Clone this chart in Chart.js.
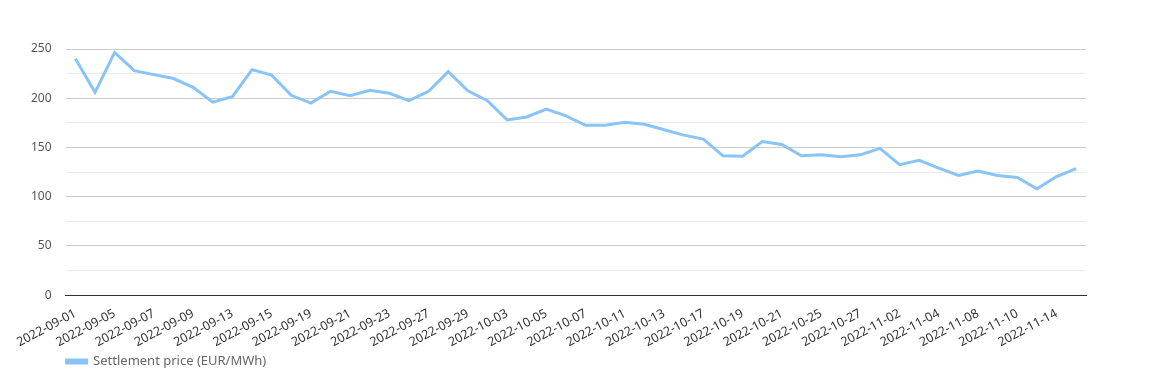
<!DOCTYPE html>
<html>
<head>
<meta charset="utf-8">
<script src="https://cdn.jsdelivr.net/npm/chart.js@4"></script>
<style>
  html, body { margin: 0; padding: 0; background: #fff; }
  #wrap { width: 1159px; height: 371px; }
</style>
</head>
<body>
<div id="wrap"><canvas id="chart" width="1159" height="371"></canvas></div>
<script>
const dates = [
    '2022-09-01', '2022-09-02', '2022-09-05', '2022-09-06', '2022-09-07', '2022-09-08', '2022-09-09',
    '2022-09-12', '2022-09-13', '2022-09-14', '2022-09-15', '2022-09-16', '2022-09-19', '2022-09-20',
    '2022-09-21', '2022-09-22', '2022-09-23', '2022-09-26', '2022-09-27', '2022-09-28', '2022-09-29',
    '2022-09-30', '2022-10-03', '2022-10-04', '2022-10-05', '2022-10-06', '2022-10-07', '2022-10-10',
    '2022-10-11', '2022-10-12', '2022-10-13', '2022-10-14', '2022-10-17', '2022-10-18', '2022-10-19',
    '2022-10-20', '2022-10-21', '2022-10-24', '2022-10-25', '2022-10-26', '2022-10-27', '2022-10-28',
    '2022-11-02', '2022-11-03', '2022-11-04', '2022-11-07', '2022-11-08', '2022-11-09', '2022-11-10',
    '2022-11-11', '2022-11-14', '2022-11-15'
];

const settlementPrice = [
    240, 206, 246.5, 228, 224, 220, 211, 196, 201.5, 229, 223.5, 203, 195, 207,
    202.5, 208, 205, 197.5, 207, 227, 207.5, 197.5, 178, 181, 189, 182, 172.5, 172.5,
    175.5, 173.5, 168, 162.5, 158.5, 141.5, 141, 156, 153, 141.5, 142.5, 140.5, 142.5, 149,
    132.5, 137, 129, 121.5, 126, 121.5, 119.5, 108, 120.5, 128.5
];

const seriesLabel = 'Settlement price (EUR/MWh)';

// legend sits under the plot area, not at the canvas edge
const legendShift = {
    id: 'legendShift',
    afterLayout(chart) {
        const shift = chart.chartArea.left - chart.legend.left - 1;
        chart.legend.left += shift;
        chart.legend.right += shift;
    }
};

document.addEventListener('DOMContentLoaded', () => {
    const ctx = document.getElementById('chart').getContext('2d');
    Chart.defaults.font.family = '"Noto Sans", "Open Sans", sans-serif';

    new Chart(ctx, {
        type: 'line',
        data: {
            labels: dates,
            datasets: [{
                label: seriesLabel,
                data: settlementPrice,
                borderColor: '#88c4f7',
                backgroundColor: '#88c4f7',
                borderWidth: 3,
                pointRadius: 0,
                tension: 0,
                fill: false
            }]
        },
        plugins: [legendShift],
        options: {
            responsive: false,
            animation: false,
            layout: {
                padding: { left: 17, right: 73, top: 49, bottom: -7 }
            },
            plugins: {
                tooltip: { enabled: false },
                legend: {
                    position: 'bottom',
                    align: 'start',
                    labels: {
                        boxWidth: 20,
                        boxHeight: 3,
                        color: '#666',
                        font: { size: 13 },
                        padding: 2
                    }
                }
            },
            scales: {
                x: {
                    offset: true,
                    grid: { display: false },
                    border: { display: true, color: '#333', width: 1 },
                    ticks: {
                        color: '#333',
                        font: { size: 12.5 },
                        minRotation: 28,
                        maxRotation: 28,
                        autoSkip: true,
                        padding: 3
                    }
                },
                y: {
                    min: 0,
                    max: 250,
                    border: { display: false },
                    grid: {
                        color: (c) => (c.tick && c.tick.value % 50 === 0) ? '#cccccc' : '#ebebeb',
                        drawTicks: false
                    },
                    ticks: {
                        stepSize: 25,
                        color: '#555',
                        font: { size: 12 },
                        padding: 14,
                        callback: (v) => (v % 50 === 0 ? v : '')
                    }
                }
            }
        }
    });
});
</script>
</body>
</html>
